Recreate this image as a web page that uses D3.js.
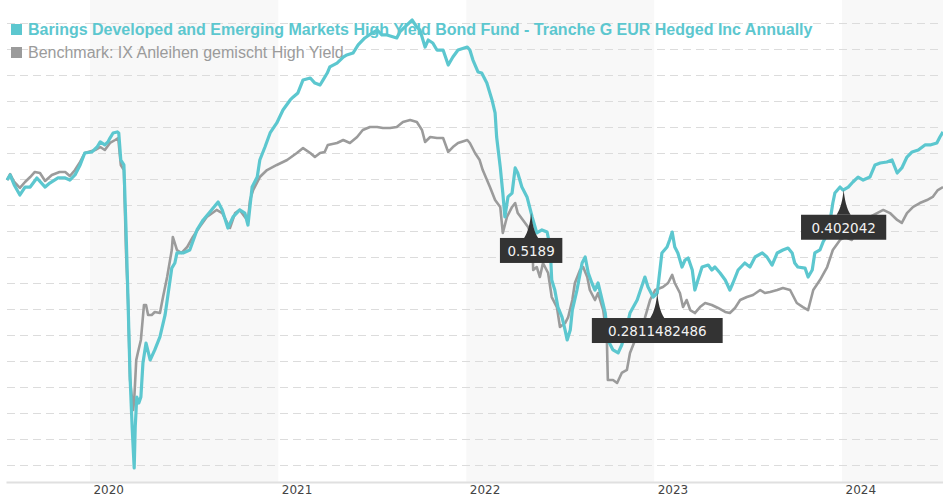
<!DOCTYPE html>
<html>
<head>
<meta charset="utf-8">
<script src="https://cdn.jsdelivr.net/npm/d3@7"></script>
<style>
  html, body { margin: 0; padding: 0; background: #fff; }
  #chart { width: 943px; height: 500px; }
</style>
</head>
<body>
<div id="chart"></div>
<script>
const fundName = "Barings Developed and Emerging Markets High Yield Bond Fund - Tranche G EUR Hedged Inc Annually";
const benchName = "Benchmark: IX Anleihen gemischt High Yield";

// cumulative performance in %
const fundSeries = [
  ["2019-07-24", -0.08], ["2019-07-30", 0.31], ["2019-08-07", -0.46], ["2019-08-18", -1.23],
  ["2019-08-28", -0.62], ["2019-09-07", -0.62], ["2019-09-20", 0.08], ["2019-10-06", -0.62],
  ["2019-10-15", -0.31], ["2019-10-31", 0.08], ["2019-11-14", 0.08], ["2019-11-23", -0.08],
  ["2019-12-03", 0.31], ["2019-12-13", 1.08], ["2019-12-22", 2.0], ["2020-01-05", 2.08],
  ["2020-01-15", 2.46], ["2020-01-21", 2.85], ["2020-01-30", 2.62], ["2020-02-05", 2.85],
  ["2020-02-09", 3.15], ["2020-02-15", 3.54], ["2020-02-23", 3.62], ["2020-02-26", 3.54],
  ["2020-03-01", 1.46], ["2020-03-07", 1.08], ["2020-03-11", -3.69], ["2020-03-15", -9.31],
  ["2020-03-19", -15.23], ["2020-03-23", -19.08], ["2020-03-27", -22.23], ["2020-03-29", -19.08],
  ["2020-04-01", -16.77], ["2020-04-05", -17.23], ["2020-04-09", -16.77], ["2020-04-13", -14.15],
  ["2020-04-19", -12.62], ["2020-04-27", -13.92], ["2020-05-06", -13.15], ["2020-05-16", -12.15],
  ["2020-05-26", -10.46], ["2020-05-31", -9.08], ["2020-06-08", -6.85], ["2020-06-14", -6.46],
  ["2020-06-18", -5.69], ["2020-06-30", -5.69], ["2020-07-13", -5.46], ["2020-07-27", -3.92],
  ["2020-08-08", -3.15], ["2020-08-21", -2.54], ["2020-09-06", -1.77], ["2020-09-14", -2.38],
  ["2020-09-25", -3.77], ["2020-10-05", -2.92], ["2020-10-18", -2.38], ["2020-10-28", -2.62],
  ["2020-11-03", -3.54], ["2020-11-11", -0.62], ["2020-11-21", 0.15], ["2020-11-26", 1.46],
  ["2020-12-06", 2.46], ["2020-12-16", 3.54], ["2020-12-29", 4.31], ["2021-01-10", 5.31],
  ["2021-01-24", 6.08], ["2021-01-30", 6.31], ["2021-02-08", 6.62], ["2021-02-18", 7.62],
  ["2021-03-04", 7.77], ["2021-03-13", 7.38], ["2021-03-23", 7.23], ["2021-03-29", 7.62],
  ["2021-04-06", 8.15], ["2021-04-11", 8.62], ["2021-04-25", 8.92], ["2021-05-07", 9.38],
  ["2021-05-14", 9.54], ["2021-05-26", 9.69], ["2021-06-05", 10.31], ["2021-06-18", 10.85],
  ["2021-07-02", 11.23], ["2021-07-12", 11.46], ["2021-07-21", 11.08], ["2021-07-31", 11.08],
  ["2021-08-19", 10.85], ["2021-08-25", 11.31], ["2021-09-08", 11.85], ["2021-09-18", 12.23],
  ["2021-09-27", 11.69], ["2021-10-03", 11.46], ["2021-10-13", 10.15], ["2021-10-19", 10.69],
  ["2021-10-28", 10.46], ["2021-11-05", 9.92], ["2021-11-17", 9.92], ["2021-11-27", 8.77],
  ["2021-12-06", 9.38], ["2021-12-16", 9.92], ["2022-01-03", 10.15], ["2022-01-08", 9.92],
  ["2022-01-14", 9.15], ["2022-01-24", 8.23], ["2022-01-31", 8.15], ["2022-02-10", 7.38],
  ["2022-02-20", 6.08], ["2022-02-26", 5.08], ["2022-03-01", 3.23], ["2022-03-08", 0.92],
  ["2022-03-13", -1.08], ["2022-03-17", -2.92], ["2022-03-23", -1.38], ["2022-03-31", -1.08],
  ["2022-04-06", 0.85], ["2022-04-11", 0.46], ["2022-04-19", -0.62], ["2022-04-29", -1.38],
  ["2022-05-09", -2.92], ["2022-05-18", -4.15], ["2022-05-28", -3.92], ["2022-06-07", -4.08],
  ["2022-06-13", -5.23], ["2022-06-16", -7.77], ["2022-06-22", -8.54], ["2022-06-28", -9.85],
  ["2022-07-06", -10.62], ["2022-07-12", -11.62], ["2022-07-16", -12.38], ["2022-07-22", -11.62],
  ["2022-07-26", -10.08], ["2022-08-04", -8.54], ["2022-08-14", -6.46], ["2022-08-20", -6.0],
  ["2022-08-26", -7.23], ["2022-09-02", -8.0], ["2022-09-08", -8.54], ["2022-09-14", -8.0],
  ["2022-09-22", -9.31], ["2022-09-28", -10.31], ["2022-10-03", -12.38], ["2022-10-13", -13.15],
  ["2022-10-23", -13.38], ["2022-10-30", -12.77], ["2022-11-09", -11.38], ["2022-11-15", -10.31],
  ["2022-11-29", -9.31], ["2022-12-14", -7.54], ["2022-12-20", -8.31], ["2022-12-30", -9.08],
  ["2023-01-07", -8.77], ["2023-01-16", -5.69], ["2023-01-26", -5.23], ["2023-01-31", -4.69],
  ["2023-02-05", -4.08], ["2023-02-10", -5.23], ["2023-02-16", -5.69], ["2023-02-24", -6.77],
  ["2023-03-02", -6.23], ["2023-03-08", -6.08], ["2023-03-16", -7.0], ["2023-03-21", -8.54],
  ["2023-03-27", -7.77], ["2023-04-04", -6.77], ["2023-04-16", -6.62], ["2023-04-23", -7.0],
  ["2023-04-29", -6.77], ["2023-05-09", -7.23], ["2023-05-19", -7.77], ["2023-05-28", -8.54],
  ["2023-06-03", -8.0], ["2023-06-13", -7.0], ["2023-06-26", -6.46], ["2023-07-06", -6.77],
  ["2023-07-16", -6.0], ["2023-07-30", -5.69], ["2023-08-08", -6.0], ["2023-08-18", -6.62],
  ["2023-08-28", -5.69], ["2023-09-08", -5.46], ["2023-09-18", -5.31], ["2023-09-26", -5.69],
  ["2023-10-01", -6.46], ["2023-10-07", -6.77], ["2023-10-21", -6.85], ["2023-10-27", -7.54],
  ["2023-11-04", -7.0], ["2023-11-09", -5.69], ["2023-11-19", -5.46], ["2023-11-25", -4.85],
  ["2023-12-05", -4.15], ["2023-12-14", -1.85], ["2023-12-18", -1.08], ["2023-12-28", -0.62],
  ["2024-01-03", -0.85], ["2024-01-13", -0.62], ["2024-01-22", -0.23], ["2024-02-01", 0.15],
  ["2024-02-11", -0.08], ["2024-02-24", 0.15], ["2024-03-05", 1.08], ["2024-03-15", 1.23],
  ["2024-03-28", 1.31], ["2024-04-07", 1.46], ["2024-04-17", 0.46], ["2024-04-26", 0.85],
  ["2024-05-06", 1.69], ["2024-05-16", 2.08], ["2024-05-28", 2.23], ["2024-06-10", 2.62],
  ["2024-06-20", 2.62], ["2024-07-03", 2.77], ["2024-07-09", 3.23], ["2024-07-15", 3.62]
];

const benchSeries = [
  ["2019-07-24", -0.08], ["2019-07-30", 0.38], ["2019-08-07", -0.23], ["2019-08-18", -0.69],
  ["2019-08-28", -0.23], ["2019-09-07", 0.15], ["2019-09-16", 0.54], ["2019-09-26", 0.46],
  ["2019-10-06", -0.15], ["2019-10-19", 0.31], ["2019-11-03", 0.54], ["2019-11-14", 0.54],
  ["2019-11-23", 0.23], ["2019-12-03", 0.69], ["2019-12-13", 1.31], ["2019-12-22", 2.0],
  ["2020-01-11", 2.23], ["2020-01-21", 2.46], ["2020-01-30", 2.23], ["2020-02-09", 2.77],
  ["2020-02-19", 3.0], ["2020-02-25", 3.15], ["2020-03-01", 1.08], ["2020-03-07", 0.69],
  ["2020-03-11", -5.46], ["2020-03-15", -9.31], ["2020-03-19", -15.46], ["2020-03-25", -17.77],
  ["2020-03-27", -17.0], ["2020-03-31", -13.92], ["2020-04-03", -13.38], ["2020-04-09", -12.38],
  ["2020-04-15", -9.69], ["2020-04-19", -9.69], ["2020-04-23", -10.46], ["2020-04-30", -10.46],
  ["2020-05-06", -10.23], ["2020-05-16", -10.31], ["2020-05-22", -9.08], ["2020-05-30", -7.54],
  ["2020-06-08", -5.46], ["2020-06-10", -4.46], ["2020-06-18", -5.46], ["2020-06-27", -5.69],
  ["2020-07-08", -5.23], ["2020-07-19", -4.46], ["2020-08-01", -3.69], ["2020-08-15", -2.92],
  ["2020-09-03", -2.38], ["2020-09-14", -2.62], ["2020-09-29", -3.77], ["2020-10-09", -2.62],
  ["2020-10-18", -2.38], ["2020-10-28", -2.92], ["2020-11-03", -3.15], ["2020-11-07", -1.62],
  ["2020-11-13", -0.85], ["2020-11-26", 0.15], ["2020-12-10", 0.69], ["2020-12-29", 1.08],
  ["2021-01-18", 1.46], ["2021-02-06", 2.0], ["2021-02-18", 2.38], ["2021-03-04", 2.0],
  ["2021-03-13", 1.69], ["2021-03-23", 2.0], ["2021-04-01", 2.08], ["2021-04-07", 2.62],
  ["2021-04-25", 2.77], ["2021-05-07", 3.0], ["2021-05-20", 2.77], ["2021-06-03", 3.23],
  ["2021-06-14", 3.77], ["2021-06-28", 4.0], ["2021-07-12", 4.0], ["2021-07-23", 3.92],
  ["2021-08-06", 3.92], ["2021-08-19", 4.0], ["2021-08-31", 4.38], ["2021-09-14", 4.54],
  ["2021-09-27", 4.38], ["2021-10-07", 3.77], ["2021-10-13", 2.85], ["2021-10-23", 3.23],
  ["2021-11-05", 3.15], ["2021-11-17", 3.15], ["2021-11-27", 2.08], ["2021-12-06", 2.46],
  ["2021-12-16", 2.77], ["2022-01-03", 3.0], ["2022-01-08", 2.77], ["2022-01-18", 2.0],
  ["2022-01-27", 1.46], ["2022-02-02", 0.69], ["2022-02-16", -0.62], ["2022-02-26", -1.62],
  ["2022-03-08", -2.15], ["2022-03-13", -4.15], ["2022-03-21", -2.92], ["2022-03-31", -2.15],
  ["2022-04-06", -1.85], ["2022-04-11", -2.62], ["2022-04-21", -3.15], ["2022-05-01", -3.69],
  ["2022-05-09", -4.46], ["2022-05-11", -7.0], ["2022-05-18", -6.77], ["2022-05-24", -7.54],
  ["2022-05-30", -6.46], ["2022-06-09", -7.23], ["2022-06-16", -9.08], ["2022-06-26", -9.85],
  ["2022-07-02", -11.38], ["2022-07-12", -11.08], ["2022-07-18", -10.62], ["2022-07-26", -9.31],
  ["2022-07-31", -8.0], ["2022-08-10", -7.0], ["2022-08-16", -6.77], ["2022-08-24", -7.54],
  ["2022-08-29", -8.54], ["2022-09-08", -9.31], ["2022-09-14", -8.77], ["2022-09-24", -10.08],
  ["2022-10-01", -12.15], ["2022-10-03", -15.46], ["2022-10-13", -15.46], ["2022-10-21", -15.69],
  ["2022-10-30", -14.92], ["2022-11-09", -14.69], ["2022-11-15", -13.38], ["2022-11-25", -12.38],
  ["2022-12-04", -11.85], ["2022-12-14", -10.69], ["2022-12-24", -9.31], ["2023-01-03", -8.54],
  ["2023-01-18", -8.31], ["2023-01-28", -8.0], ["2023-02-05", -7.38], ["2023-02-10", -8.0],
  ["2023-02-20", -8.77], ["2023-02-26", -9.85], ["2023-03-05", -9.31], ["2023-03-12", -10.08],
  ["2023-03-21", -10.31], ["2023-03-31", -9.85], ["2023-04-10", -9.54], ["2023-04-23", -9.69],
  ["2023-05-05", -9.92], ["2023-05-19", -10.23], ["2023-05-28", -10.31], ["2023-06-07", -9.92],
  ["2023-06-17", -9.31], ["2023-06-30", -9.08], ["2023-07-12", -8.92], ["2023-07-26", -8.54],
  ["2023-08-04", -8.77], ["2023-08-14", -8.69], ["2023-08-28", -8.54], ["2023-09-08", -8.38],
  ["2023-09-22", -8.54], ["2023-10-05", -9.54], ["2023-10-17", -9.85], ["2023-10-27", -10.08],
  ["2023-11-06", -8.54], ["2023-11-19", -7.77], ["2023-12-03", -6.77], ["2023-12-14", -5.46],
  ["2023-12-28", -4.69], ["2024-01-07", -4.46], ["2024-01-20", -4.69], ["2024-01-30", -3.92],
  ["2024-02-11", -3.15], ["2024-02-24", -2.92], ["2024-03-09", -2.62], ["2024-03-21", -2.38],
  ["2024-04-03", -2.62], ["2024-04-17", -3.15], ["2024-04-26", -3.38], ["2024-05-06", -2.62],
  ["2024-05-18", -2.15], ["2024-05-31", -1.85], ["2024-06-14", -1.62], ["2024-06-25", -1.38],
  ["2024-07-05", -0.85], ["2024-07-15", -0.62]
];

// distribution markers on the fund line
const distDates = ["2022-05-07", "2023-01-07", "2024-01-04"];
const distLabels = ["0.5189", "0.2811482486", "0.402042"];

const shadedYears = [2020, 2022, 2024];
const gridValues = d3.range(-22, 13, 2);

const width = 943, height = 500;
const axisY = 482;
const teal = "#5cc7cf", grey = "#9b9b9b";

const parse = d3.timeParse("%Y-%m-%d");
const fund = fundSeries.map(d => ({ date: parse(d[0]), value: d[1] }));
const bench = benchSeries.map(d => ({ date: parse(d[0]), value: d[1] }));

const svg = d3.select("#chart").append("svg")
  .attr("width", width)
  .attr("height", height)
  .style("font-family", "'Liberation Sans', Arial, sans-serif");

const x = d3.scaleTime()
  .domain([parse("2019-07-22"), parse("2024-07-15")])
  .range([6, width]);
const y = d3.scaleLinear().domain([-22, 12]).range([465, 23]);

// alternating year bands
svg.append("g").selectAll("rect")
  .data(shadedYears)
  .join("rect")
  .attr("x", d => x(new Date(d, 0, 1)))
  .attr("width", d => Math.min(x(new Date(d + 1, 0, 1)), width) - x(new Date(d, 0, 1)))
  .attr("y", 0)
  .attr("height", axisY)
  .attr("fill", "#f8f8f8");

// dashed grid
svg.append("g")
  .attr("transform", "translate(7,0)")
  .call(d3.axisLeft(y).tickValues(gridValues).tickSize(-(width - 7)).tickFormat(""))
  .call(g => g.select(".domain").remove())
  .selectAll("line")
  .attr("stroke", "#dcdcdc")
  .attr("stroke-dasharray", "8,5");

// x axis
const xAxis = svg.append("g")
  .attr("transform", `translate(0,${axisY})`)
  .call(d3.axisBottom(x).ticks(d3.timeYear.every(1)).tickSize(0).tickSizeOuter(0)
    .tickFormat(d3.timeFormat("%Y")));
xAxis.select(".domain").attr("stroke", "#e0e0e0").attr("stroke-width", 2);
xAxis.selectAll("text")
  .attr("text-anchor", "start")
  .attr("x", 3)
  .attr("y", 3)
  .attr("dy", "0.71em")
  .attr("fill", "#444")
  .style("font-family", "'DejaVu Sans', sans-serif")
  .style("font-size", "12px");

// legend
const legend = svg.append("g");
legend.append("rect").attr("x", 11).attr("y", 24).attr("width", 11).attr("height", 11).attr("fill", teal);
legend.append("text").attr("x", 28).attr("y", 35)
  .attr("fill", teal).style("font-weight", "bold").style("font-size", "16px")
  .text(fundName);
legend.append("rect").attr("x", 11).attr("y", 47).attr("width", 11).attr("height", 11).attr("fill", grey);
legend.append("text").attr("x", 28).attr("y", 58)
  .attr("fill", grey).style("font-size", "16px")
  .text(benchName);

// lines
const line = d3.line().x(d => x(d.date)).y(d => y(d.value));

svg.append("path")
  .datum(bench)
  .attr("d", line)
  .attr("fill", "none")
  .attr("stroke", grey)
  .attr("stroke-width", 2.6)
  .attr("stroke-linejoin", "round");

svg.append("path")
  .datum(fund)
  .attr("d", line)
  .attr("fill", "none")
  .attr("stroke", teal)
  .attr("stroke-width", 3.2)
  .attr("stroke-linejoin", "round");

// distribution flags
const bisect = d3.bisector(d => d.date).left;
function fundAt(date) {
  const i = bisect(fund, date);
  const a = fund[i - 1], b = fund[i];
  const t = (date - a.date) / (b.date - a.date);
  return a.value + t * (b.value - a.value);
}

distDates.forEach((ds, i) => {
  const date = parse(ds);
  const px = x(date), py = y(fundAt(date));
  const top = py + 25;
  const label = distLabels[i];
  const w = 11.4 * label.length - 6;
  const g = svg.append("g");
  g.append("path")
    .attr("d", `M${px},${py} C${px + 1},${py + 10} ${px + 3},${top - 6} ${px + 7},${top}` +
      ` L${px - 7},${top} C${px - 3},${top - 6} ${px - 1},${py + 10} ${px},${py} Z`)
    .attr("fill", "#333");
  g.append("rect")
    .attr("x", px - w / 2)
    .attr("y", top)
    .attr("width", w)
    .attr("height", 25)
    .attr("fill", "#333");
  g.append("text")
    .attr("x", px)
    .attr("y", top + 18)
    .attr("text-anchor", "middle")
    .attr("fill", "#f2f2f2")
    .style("font-family", "'DejaVu Sans', sans-serif")
    .style("font-size", "13.5px")
    .text(label);
});
</script>
</body>
</html>
